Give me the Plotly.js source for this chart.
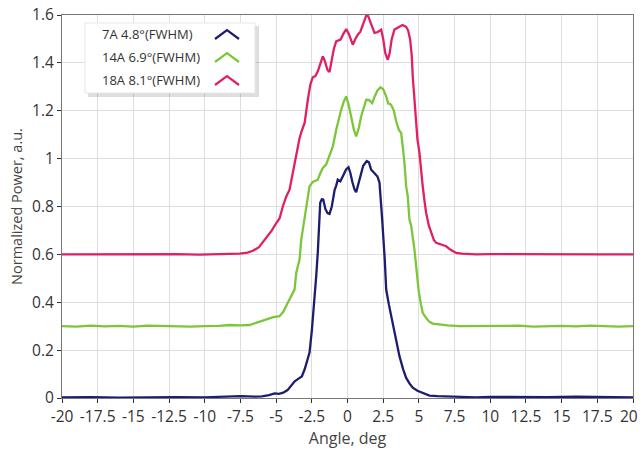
<!DOCTYPE html>
<html>
<head>
<meta charset="utf-8">
<script src="https://cdn.plot.ly/plotly-3.0.1.min.js"></script>
<style>html,body{margin:0;padding:0;background:#fff;}#chart{width:640px;height:453px;}</style>
</head>
<body>
<div id="chart"></div>
<script>
// ---- Data ----
const seriesNames = ["7A 4.8°(FWHM)", "14A 6.9°(FWHM)", "18A 8.1°(FWHM)"];
const seriesColors = ["#1c1d6e", "#7cc63a", "#e01f66"];

const angle7A = [-20,-18,-16,-14,-12,-10,-8.5,-7.5,-6.5,-6,-5.5,-5.1,-4.8,-4.5,-4.2,-3.9,-3.7,-3.4,-3.2,-3.0,-2.8,-2.66,-2.5,-2.3,-2.19,-2.08,-1.98,-1.91,-1.8,-1.7,-1.55,-1.4,-1.26,-1.1,-0.9,-0.8,-0.68,-0.5,-0.3,-0.1,0.07,0.2,0.35,0.5,0.61,0.75,0.9,1.1,1.35,1.5,1.65,1.8,1.94,2.1,2.24,2.35,2.43,2.61,2.71,2.9,3.17,3.4,3.64,3.9,4.11,4.35,4.57,4.9,5.27,5.74,6.3,7,8,9,10,12,14,16,18,20];
const power7A = [0.002,0.004,0.001,0.003,0.004,0.003,0.006,0.008,0.006,0.007,0.012,0.019,0.017,0.022,0.033,0.055,0.07,0.082,0.09,0.12,0.16,0.19,0.28,0.41,0.51,0.61,0.74,0.816,0.83,0.829,0.79,0.772,0.769,0.80,0.87,0.885,0.912,0.905,0.93,0.955,0.964,0.94,0.90,0.87,0.86,0.89,0.93,0.97,0.99,0.985,0.955,0.945,0.94,0.925,0.90,0.82,0.745,0.578,0.453,0.39,0.314,0.24,0.175,0.12,0.084,0.06,0.043,0.03,0.022,0.01,0.008,0.006,0.004,0.003,0.005,0.003,0.004,0.006,0.003,0.002];

const angle14A = [-20,-19,-18,-17,-16,-15,-14,-13,-12,-11,-10,-9,-8.26,-7.5,-6.86,-6.39,-5.69,-5.2,-4.76,-4.5,-4.29,-4.0,-3.71,-3.59,-3.36,-3.24,-3.13,-2.89,-2.78,-2.66,-2.43,-2.2,-2.08,-1.9,-1.73,-1.5,-1.26,-1.03,-0.79,-0.6,-0.44,-0.25,-0.09,0.1,0.26,0.45,0.61,0.8,0.96,1.15,1.31,1.5,1.73,1.9,2.1,2.31,2.5,2.71,2.85,3.0,3.1,3.25,3.41,3.6,3.76,3.87,3.99,4.11,4.22,4.34,4.46,4.69,4.85,5.0,5.15,5.27,5.5,5.74,5.97,6.5,7,7.84,9,10,11,12,13,14,15,16,17,18,19,20];
const power14A = [0.30,0.298,0.302,0.299,0.301,0.298,0.302,0.300,0.301,0.298,0.300,0.301,0.305,0.303,0.305,0.314,0.328,0.338,0.342,0.36,0.385,0.42,0.453,0.523,0.578,0.662,0.703,0.80,0.843,0.884,0.903,0.91,0.912,0.94,0.961,0.975,1.01,1.05,1.121,1.17,1.205,1.24,1.26,1.22,1.177,1.12,1.093,1.13,1.177,1.22,1.246,1.245,1.232,1.26,1.285,1.298,1.29,1.26,1.23,1.228,1.22,1.20,1.156,1.12,1.107,1.05,0.982,0.884,0.843,0.745,0.72,0.62,0.52,0.44,0.39,0.356,0.335,0.318,0.311,0.306,0.303,0.300,0.301,0.299,0.300,0.302,0.298,0.300,0.301,0.299,0.302,0.300,0.298,0.300];

const angle18A = [-20,-18,-16,-14,-12,-10.4,-9,-8,-7.56,-7,-6.63,-6.2,-5.69,-5.3,-4.99,-4.76,-4.53,-4.3,-4.06,-3.8,-3.59,-3.36,-3.24,-3.0,-2.78,-2.6,-2.43,-2.25,-2.08,-1.9,-1.73,-1.6,-1.4,-1.26,-1.1,-0.95,-0.79,-0.6,-0.49,-0.3,-0.09,0.1,0.25,0.37,0.55,0.72,0.9,1.1,1.31,1.45,1.6,1.75,1.89,2.1,2.36,2.5,2.65,2.82,2.95,3.1,3.29,3.45,3.64,3.85,4.11,4.25,4.39,4.5,4.57,4.69,4.76,4.9,5.04,5.15,5.27,5.4,5.51,5.7,5.86,6.05,6.21,6.5,6.91,7.2,7.61,8,9,10,12,14,16,18,20];
const power18A = [0.60,0.601,0.599,0.600,0.601,0.599,0.600,0.601,0.603,0.607,0.615,0.63,0.672,0.70,0.731,0.75,0.80,0.84,0.87,0.95,1.024,1.085,1.11,1.15,1.246,1.31,1.34,1.345,1.365,1.40,1.427,1.41,1.37,1.362,1.41,1.46,1.49,1.495,1.497,1.52,1.541,1.52,1.49,1.476,1.50,1.518,1.53,1.565,1.597,1.595,1.57,1.545,1.525,1.528,1.539,1.50,1.44,1.413,1.44,1.50,1.539,1.545,1.55,1.558,1.55,1.535,1.497,1.43,1.344,1.247,1.163,1.08,1.024,0.95,0.884,0.82,0.773,0.72,0.69,0.66,0.648,0.642,0.634,0.62,0.606,0.603,0.600,0.601,0.600,0.599,0.601,0.600,0.600];

const xTickVals = [-20,-17.5,-15,-12.5,-10,-7.5,-5,-2.5,0,2.5,5,7.5,10,12.5,15,17.5,20];
const xTickText = ["-20","-17.5","-15","-12.5","-10","-7.5","-5","-2.5","0","2.5","5","7.5","10","12.5","15","17.5","20"];
const yTickVals = [0,0.2,0.4,0.6,0.8,1,1.2,1.4,1.6];
const yTickText = ["0","0.2","0.4","0.6","0.8","1","1.2","1.4","1.6"];

// ---- Layout geometry ----
const W = 640, H = 453;
const M = {l: 62, r: 7, t: 15, b: 55};
const PW = W - M.l - M.r, PH = H - M.t - M.b;
const px = x => (x - M.l) / PW;          // pixel -> paper x
const py = y => (H - M.b - y) / PH;      // pixel -> paper y

const xs = [angle7A, angle14A, angle18A];
const ys = [power7A, power14A, power18A];
const traces = xs.map((x, i) => ({
  x: x, y: ys[i], type: 'scatter', mode: 'lines', name: seriesNames[i],
  line: {color: seriesColors[i], width: 2.3, shape: 'linear'},
  showlegend: false, hoverinfo: 'skip'
}));

const font = "'Open Sans', 'Noto Sans', sans-serif";
const tickFont = {family: font, size: 15.5, color: '#333'};
const shapes = [];
const annotations = [];
// last x tick label drawn as annotation so it stays inside the page edge
const lastIdx = xTickVals.length - 1;
annotations.push({xref:'x', yref:'paper', x:xTickVals[lastIdx], y:0, yanchor:'top', xanchor:'right',
  xshift: 7, yshift: -5, text: xTickText[lastIdx], showarrow:false, font: tickFont});
const xTickTextShown = xTickText.map((t, i) => i === lastIdx ? '' : t);

// legend box with shadow
shapes.push({type:'rect', xref:'paper', yref:'paper', x0:px(88), x1:px(259), y0:py(97), y1:py(26), fillcolor:'rgba(0,0,0,0.13)', line:{width:0}, layer:'above'});
shapes.push({type:'rect', xref:'paper', yref:'paper', x0:px(85), x1:px(255), y0:py(93), y1:py(23), fillcolor:'#ffffff', line:{color:'#e6e6e6', width:1}, layer:'above'});
const rowsY = [34, 57, 80];
seriesNames.forEach((n, i) => {
  annotations.push({xref:'paper', yref:'paper', x:px(100), y:py(rowsY[i]), text:n, showarrow:false, xanchor:'left', yanchor:'middle', font:{family:font, size:13, color:'#333'}});
  const cx = 227, cy = rowsY[i];
  shapes.push({type:'path', xref:'paper', yref:'paper', layer:'above',
    path:`M ${px(cx-12)} ${py(cy+5)} L ${px(cx)} ${py(cy-4)} L ${px(cx+12)} ${py(cy+5)}`,
    line:{color:seriesColors[i], width:2.2}});
});

const layout = {
  width: W, height: H,
  margin: M,
  paper_bgcolor: '#ffffff', plot_bgcolor: '#ffffff',
  font: {family: font, size: 15, color: '#333'},
  xaxis: {
    range: [-20, 20], tickvals: xTickVals, ticktext: xTickTextShown,
    showgrid: true, gridcolor: '#dedede', gridwidth: 1, zeroline: false,
    showline: true, linecolor: '#777', linewidth: 1, mirror: true,
    ticks: 'outside', ticklen: 4, tickcolor: '#333',
    tickfont: tickFont,
    title: {text: 'Angle, deg', font: {family: font, size: 16, color: '#444'}, standoff: 4}
  },
  yaxis: {
    range: [0, 1.6], tickvals: yTickVals, ticktext: yTickText,
    showgrid: true, gridcolor: '#dedede', gridwidth: 1, zeroline: false,
    showline: true, linecolor: '#777', linewidth: 1, mirror: true,
    ticks: 'outside', ticklen: 4, tickcolor: '#333', ticklabeloverflow: 'allow',
    tickfont: tickFont,
    title: {text: 'Normalized Power, a.u.', font: {family: font, size: 14.5, color: '#444'}, standoff: 6}
  },
  shapes: shapes,
  annotations: annotations,
  showlegend: false
};

Plotly.newPlot('chart', traces, layout, {staticPlot: true, displayModeBar: false});
</script>
</body>
</html>
